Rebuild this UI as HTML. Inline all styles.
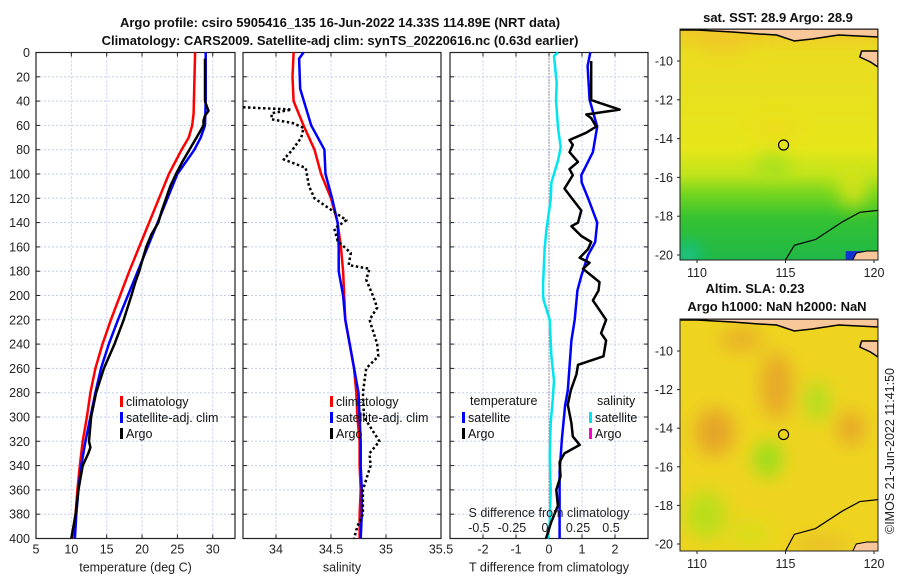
<!DOCTYPE html>
<html><head><meta charset="utf-8">
<style>
html,body{margin:0;padding:0;background:#fff;}
svg{display:block;font-family:"Liberation Sans","DejaVu Sans",sans-serif;}
.t{font-size:12.5px;fill:#222;}
.ti{font-size:13px;font-weight:bold;fill:#111;}
.lg{font-size:12.5px;fill:#111;}
</style></head>
<body>
<svg id="c" width="900" height="580" viewBox="0 0 900 580" xmlns="http://www.w3.org/2000/svg">
<defs>
<linearGradient id="sstg" x1="0" y1="0" x2="0" y2="1">
<stop offset="0" stop-color="#f0c828"/><stop offset="0.1" stop-color="#eadc20"/>
<stop offset="0.52" stop-color="#e6e61a"/><stop offset="0.63" stop-color="#c0e41a"/>
<stop offset="0.72" stop-color="#70d420"/><stop offset="0.82" stop-color="#34c232"/>
<stop offset="1" stop-color="#20b848"/></linearGradient>
<filter id="bl" x="-50%" y="-50%" width="200%" height="200%"><feGaussianBlur stdDeviation="9"/></filter>
<clipPath id="cm1"><rect x="680" y="29" width="198" height="231"/></clipPath>
<clipPath id="cm2"><rect x="680" y="319" width="198" height="232"/></clipPath>
</defs>
<text class="ti" x="340" y="27" text-anchor="middle">Argo profile: csiro 5905416_135 16-Jun-2022 14.33S 114.89E (NRT data)</text>
<text class="ti" x="340" y="45" text-anchor="middle">Climatology: CARS2009. Satellite-adj clim: synTS_20220616.nc (0.63d earlier)</text>
<g id="g"></g>
</svg>
<script>
// ---- data ----
const depthTicks=[0,20,40,60,80,100,120,140,160,180,200,220,240,260,280,300,320,340,360,380,400];
const tempTicks=[5,10,15,20,25,30];
const salTicks=[34,34.5,35,35.5];
const salTickLabels=["34","34.5","35","35.5"];
const tdiffTicks=[-2,-1,0,1,2];
const sdiffTicks=[-0.5,-0.25,0,0.25,0.5];
const sdiffTickLabels=["-0.5","-0.25","0","0.25","0.5"];
const climTempDepth=[0,50,60,70,80,100,120,140,160,180,200,220,240,260,280,300,320,340,360,380,400];
const climTemp=[27.5,27.3,27.1,26.6,25.6,23.8,22.4,21.0,19.6,18.2,16.9,15.6,14.4,13.4,12.7,12.2,11.6,11.2,10.85,10.6,10.15];
const satTempDepth=[0,40,60,70,80,100,120,140,160,180,200,220,240,260,280,300,320,340,360,380,400];
const satTemp=[29.0,29.0,28.9,28.3,27.4,25.0,23.6,22.2,20.8,19.4,18.0,16.6,15.3,14.2,13.4,12.7,12.0,11.4,11.0,10.7,10.5];
const argoTempDepth=[5,40,45,48,52,56,60,70,80,90,100,110,120,130,140,150,160,170,180,190,200,220,240,260,280,300,320,325,330,340,360,380,400];
const argoTemp=[28.9,28.9,29.2,29.4,28.9,28.7,28.7,27.7,26.7,25.7,24.8,24.0,23.4,22.8,22.3,21.3,20.6,20.1,19.6,19.0,18.5,17.4,16.1,14.6,13.5,12.8,12.5,12.7,12.4,11.6,11.0,10.6,10.0];
const climSalDepth=[0,20,40,60,80,100,120,140,160,180,200,220,240,260,280,300,320,340,360,380,400];
const climSal=[34.16,34.15,34.16,34.25,34.35,34.41,34.5,34.56,34.59,34.61,34.62,34.63,34.67,34.71,34.73,34.74,34.76,34.76,34.77,34.76,34.76];
const satSalDepth=[0,5,30,60,80,100,120,140,160,180,200,220,240,260,280,300,320,340,360,380,400];
const satSal=[34.25,34.21,34.22,34.32,34.44,34.45,34.51,34.56,34.57,34.57,34.61,34.63,34.67,34.71,34.75,34.76,34.77,34.77,34.78,34.78,34.77];
const argoSalDepth=[45,47,50,55,58,62,70,80,88,95,110,120,130,138,145,155,165,175,178,187,200,210,220,240,250,260,280,300,320,330,340,360,380,390,400];
const argoSal=[33.70,34.14,33.96,33.96,34.15,34.25,34.23,34.15,34.07,34.27,34.30,34.35,34.51,34.64,34.53,34.56,34.68,34.66,34.85,34.82,34.88,34.92,34.85,34.92,34.93,34.82,34.79,34.80,34.94,34.85,34.86,34.79,34.79,34.74,34.71];
const satTdiffDepth=[0,11,39,61,82,101,107,121,140,156,167,184,196,220,237,278,290,318,345,400];
const satTdiff=[1.25,1.17,1.23,1.46,1.33,0.98,0.99,1.2,1.46,1.4,1.18,0.98,0.86,0.78,0.68,0.57,0.49,0.39,0.32,0.32];
const argoTdiffDepth=[7,39,41,47,51,54,61,66,72,76,82,90,96,101,112,121,130,140,143,151,156,162,169,173,178,189,196,204,212,220,231,237,250,257,265,278,290,305,316,323,330,337,349,360,373,387,400];
const argoTdiff=[1.28,1.28,1.48,2.14,1.13,1.28,1.43,1.13,0.62,0.72,0.62,0.88,0.62,0.72,0.47,0.72,0.98,0.88,0.68,0.98,1.28,1.18,0.93,1.23,1.03,1.53,1.5,1.33,1.53,1.73,1.58,1.73,1.65,0.88,0.83,0.66,0.57,0.68,0.72,0.93,0.47,0.32,0.35,0.22,0.27,0.06,-0.09];
const satSdiffDepth=[0,3,25,39,62,78,89,107,121,146,162,190,200,204,220,250,270,286,305,333,360,388,400];
const satSdiff=[0.068,0.038,0.058,0.053,0.068,0.089,0.068,0.018,0.013,-0.02,-0.033,-0.045,-0.045,-0.04,0.005,0.018,0.038,0.028,0.013,0.005,0.013,0.005,-0.008];
const lonTicks=[110,115,120];
const latTicks=[-10,-12,-14,-16,-18,-20];
const argoLon=114.89, argoLat=-14.33;

// ---- axes ----
const Y0=52.5,Y1=538.5;
const yD=d=>Y0+(d/400)*(Y1-Y0);
const P1={x0:36,x1:235,v0:5,v1:33.15};
const P2={x0:243,x1:441,v0:33.7,v1:35.5};
const P3={x0:450,x1:648,v0:-3,v1:3};
const S3={v0:-0.75,v1:0.75};
const sx=(P,v)=>P.x0+(v-P.v0)/(P.v1-P.v0)*(P.x1-P.x0);
const sxS=v=>P3.x0+(v-S3.v0)/(S3.v1-S3.v0)*(P3.x1-P3.x0);
const NS="http://www.w3.org/2000/svg";
const G=document.getElementById('g');
function mk(tag,attrs,parent){const e=document.createElementNS(NS,tag);for(const k in attrs)e.setAttribute(k,attrs[k]);(parent||G).appendChild(e);return e;}
function txt(x,y,s,cls,anchor,parent){const e=mk('text',{x:x,y:y,class:cls,'text-anchor':anchor||'middle'},parent);e.textContent=s;return e;}

function panel(P,name,xt,xlabels,xfn,title){
  const g=mk('g',{});
  
  
  depthTicks.forEach(d=>{const l=mk('line',{x1:P.x0,x2:P.x1,y1:yD(d),y2:yD(d),stroke:'#c5cdee','stroke-width':1,'stroke-dasharray':'2,2'},g);
    
    mk('line',{x1:P.x0,x2:P.x0+4,y1:yD(d),y2:yD(d),stroke:'#222'},g);mk('line',{x1:P.x1-4,x2:P.x1,y1:yD(d),y2:yD(d),stroke:'#222'},g);});
  xt.forEach((v,i)=>{const x=xfn(v);
    if(x>P.x0+1&&x<P.x1-1){const l=mk('line',{x1:x,x2:x,y1:Y0,y2:Y1,stroke:'#c5cdee','stroke-width':1,'stroke-dasharray':'2,2'},g);
      }
    mk('line',{x1:x,x2:x,y1:Y1,y2:Y1-4,stroke:'#222'},g);mk('line',{x1:x,x2:x,y1:Y0,y2:Y0+4,stroke:'#222'},g);
    const t=txt(x,Y1+15,xlabels[i],'t','middle',g);});
  const r=mk('rect',{x:P.x0,y:Y0,width:P.x1-P.x0,height:Y1-Y0,fill:'none',stroke:'#222','stroke-width':1.2},g);
  
  const t=txt((P.x0+P.x1)/2,Y1+33,title,'t','middle',g);
  
  return g;
}
function line(depths,vals,fx,color,w,name,dash){
  const pts=depths.map((d,i)=>fx(vals[i]).toFixed(1)+','+yD(d).toFixed(1)).join(' ');
  const a={points:pts,fill:'none',stroke:color,'stroke-width':w,'stroke-linejoin':'round'};
  if(dash)a['stroke-dasharray']=dash;
  const p=mk('polyline',a);
  
  
}
function legend(x,y,label,color,name){
  const m=mk('rect',{x:x,y:y-10,width:3,height:11,fill:color});
  
  
  const t=txt(x+6,y,label,'lg','start');
  
  
}

depthTicks.forEach(d=>{const t=txt(30,yD(d)+4.5,String(d),'t','end');
  });

// panel 1
panel(P1,'temperature-panel',tempTicks,tempTicks.map(String),v=>sx(P1,v),'temperature (deg C)');
line(climTempDepth,climTemp,v=>sx(P1,v),'#ff0000',2.5,'climatology-temp-line');
line(satTempDepth,satTemp,v=>sx(P1,v),'#0000ff',2.5,'satellite-temp-line');
line(argoTempDepth,argoTemp,v=>sx(P1,v),'#000000',2.5,'argo-temp-line');
legend(120,406,'climatology','#ff0000','legend-climatology');
legend(120,422,'satellite-adj. clim','#0000ff','legend-satellite-adj');
legend(120,438,'Argo','#000000','legend-argo');

// panel 2
panel(P2,'salinity-panel',salTicks,salTickLabels,v=>sx(P2,v),'salinity');
line(climSalDepth,climSal,v=>sx(P2,v),'#ff0000',2.5,'climatology-salinity-line');
line(satSalDepth,satSal,v=>sx(P2,v),'#0000ff',2.5,'satellite-salinity-line');
line(argoSalDepth,argoSal,v=>sx(P2,v),'#000000',2.5,'argo-salinity-line','2.5,2.5');
legend(330,406,'climatology','#ff0000','legend2-climatology');
legend(330,422,'satellite-adj. clim','#0000ff','legend2-satellite-adj');
legend(330,438,'Argo','#000000','legend2-argo');

// panel 3
panel(P3,'difference-panel',tdiffTicks,tdiffTicks.map(String),v=>sx(P3,v),'T difference from climatology');
const z=mk('line',{x1:sx(P3,0),x2:sx(P3,0),y1:Y0,y2:Y1,stroke:'#444','stroke-width':1,'stroke-dasharray':'1,2'});


line(satSdiffDepth,satSdiff,sxS,'#00e5ee',2.5,'satellite-sal-diff-line');
line(satTdiffDepth,satTdiff,v=>sx(P3,v),'#0000ff',2.5,'satellite-temp-diff-line');
line(argoTdiffDepth,argoTdiff,v=>sx(P3,v),'#000000',2.5,'argo-temp-diff-line');
{const t=txt(470,405,'temperature','lg','start');
 const u=txt(597,405,'salinity','lg','start');}
legend(462,422,'satellite','#0000ff','legend3-temp-satellite');
legend(462,438,'Argo','#000000','legend3-temp-argo');
legend(589,422,'satellite','#00e5ee','legend3-sal-satellite');
legend(589,438,'Argo','#ff00cc','legend3-sal-argo');
{const t=txt(549,517,'S difference from climatology','t','middle');}
sdiffTicks.forEach((v,i)=>{const t=txt(sxS(v)-4,532,sdiffTickLabels[i],'t','middle');
  });

// ---- maps ----
const MX0=680;
const lonX=lon=>697+(lon-110)*17.7;
function mapPanel(top,bot,latY,clip,name,kind){
  const g=mk('g',{'clip-path':'url(#'+clip+')'});
  
  
  if(kind==='sst'){
    mk('rect',{x:MX0,y:top,width:198,height:bot-top,fill:'url(#sstg)'},g);
    const fb=mk('g',{filter:'url(#bl)'},g);
    mk('ellipse',{cx:lonX(114.3),cy:latY(-15.4),rx:18,ry:12,fill:'#9ade20','opacity':0.8},fb);
    mk('ellipse',{cx:lonX(118.8),cy:latY(-16.5),rx:14,ry:20,fill:'#dde21a','opacity':0.9},fb);
    mk('ellipse',{cx:lonX(111.5),cy:latY(-9),rx:30,ry:10,fill:'#f0c428','opacity':0.8},fb);
    mk('ellipse',{cx:lonX(114.5),cy:latY(-13.5),rx:25,ry:12,fill:'#eedc1c','opacity':0.7},fb);
    mk('ellipse',{cx:lonX(109.5),cy:latY(-20),rx:10,ry:10,fill:'#10c8c0','opacity':0.9},fb);
    mk('rect',{x:lonX(118.4),y:latY(-19.8),width:30,height:12,fill:'#1030d0'},g);
  } else {
    mk('rect',{x:MX0,y:top,width:198,height:bot-top,fill:'#eed420'},g);
    const fb=mk('g',{filter:'url(#bl)'},g);
    [[111,-14.2,20,24,'#e6a02a'],[114.5,-11.8,16,34,'#e6a42a'],[118.7,-14,14,18,'#e6a42a'],[112.5,-9.4,22,12,'#e8ac2a'],
     [116.8,-12.6,12,20,'#a8e01e'],[114,-15.6,14,18,'#8ce018'],[110.5,-18.5,20,24,'#b4e01a'],[113,-19.5,20,12,'#d4e01a'],[117,-20,30,8,'#e8b82a']]
     .forEach(b=>mk('ellipse',{cx:lonX(b[0]),cy:latY(b[1]),rx:b[2],ry:b[3],fill:b[4],opacity:0.9},fb));
  }
  mk('path',{d:`M${MX0} ${top} L${MX0+198} ${top} L${MX0+198} ${top+8} L${lonX(118)} ${top+6} L${lonX(116.5)} ${top+10} L${lonX(115.5)} ${top+12} L${lonX(114.5)} ${top+6} L${lonX(113.5)} ${top+5} L${lonX(112)} ${top+3} L${lonX(110)} ${top+1} L${MX0} ${top+1} Z`,fill:'#f8c89a',stroke:'#000','stroke-width':1.5},g);
  mk('path',{d:`M${MX0+198} ${top+22} L${lonX(119.3)} ${top+22} L${lonX(119.2)} ${top+28} L${lonX(119.8)} ${top+33} L${MX0+198} ${top+38} Z`,fill:'#f8c89a',stroke:'#000','stroke-width':1.5},g);
  mk('path',{d:`M${lonX(118.8)} ${bot} L${lonX(119)} ${bot-7} L${lonX(119.6)} ${bot-9} L${MX0+198} ${bot-9} L${MX0+198} ${bot} Z`,fill:'#f8c89a',stroke:'#000','stroke-width':1},g);
  mk('polyline',{points:`${lonX(115)},${bot} ${lonX(115.5)},${latY(-19.5)} ${lonX(116.7)},${latY(-19.2)} ${lonX(118.2)},${latY(-18.3)} ${lonX(119.2)},${latY(-17.8)} ${MX0+198},${latY(-17.7)}`,fill:'none',stroke:'#000','stroke-width':1.2},g);
  const c=mk('circle',{cx:lonX(argoLon),cy:latY(argoLat),r:5,fill:'none',stroke:'#000','stroke-width':1.2});
  
  
  const f=mk('rect',{x:MX0,y:top,width:198,height:bot-top,fill:'none',stroke:'#222','stroke-width':1});
  
  
  latTicks.forEach(l=>{const t=txt(673,latY(l)+4.5,String(l),'t','end');
    
    mk('line',{x1:MX0-3,x2:MX0,y1:latY(l),y2:latY(l),stroke:'#222'});});
  lonTicks.forEach(l=>{const t=txt(lonX(l),bot+17,String(l),'t','middle');
    
    mk('line',{x1:lonX(l),x2:lonX(l),y1:bot,y2:bot+3,stroke:'#222'});});
}
mapPanel(29,260,l=>61+(-10-l)*19.4,'cm1','sst-map','sst');
mapPanel(319,551,l=>351+(-10-l)*19.3,'cm2','sla-map','sla');
[[778,22,'sat. SST: 28.9 Argo: 28.9','sst-map-title'],[755,293,'Altim. SLA: 0.23','sla-map-title'],[777,311,'Argo h1000: NaN h2000: NaN','sla-map-subtitle']]
.forEach(a=>{const t=txt(a[0],a[1],a[2],'ti','middle');});
{const t=txt(0,0,'©IMOS 21-Jun-2022 11:41:50','t','middle');
 t.setAttribute('transform','translate(894,451) rotate(-90)');
 
 }
</script>
</body></html>
